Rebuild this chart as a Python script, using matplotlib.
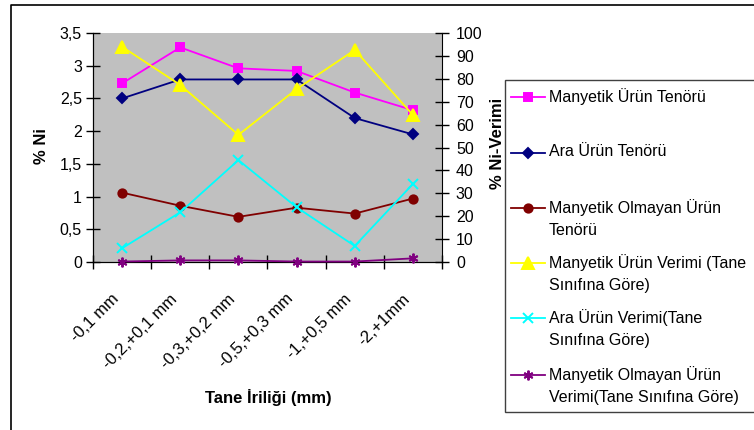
import numpy as np
import matplotlib
matplotlib.use("Agg")
import matplotlib.pyplot as plt
from matplotlib.lines import Line2D
from matplotlib.patches import Rectangle

plt.rcParams["font.family"] = ["Liberation Sans", "DejaVu Sans"]

categories = ["-0,1 mm", "-0,2,+0,1 mm", "-0,3,+0,2 mm", "-0,5,+0,3 mm",
              "-1,+0,5 mm", "-2,+1mm"]

# left axis: % Ni (tenör)
manyetik_tenor = [2.73, 3.28, 2.96, 2.92, 2.59, 2.32]
ara_tenor = [2.50, 2.79, 2.79, 2.79, 2.20, 1.95]
olmayan_tenor = [1.06, 0.86, 0.69, 0.83, 0.74, 0.97]

# right axis: % Ni-Verimi
manyetik_verim = [94.0, 77.3, 55.5, 75.5, 92.6, 64.2]
ara_verim = [6.0, 21.7, 44.5, 23.9, 7.0, 34.1]
olmayan_verim = [0.2, 0.7, 0.7, 0.2, 0.2, 1.6]

left_ticks = [0, 0.5, 1, 1.5, 2, 2.5, 3, 3.5]
left_ticklabels = ["0", "0,5", "1", "1,5", "2", "2,5", "3", "3,5"]
right_ticks = list(range(0, 101, 10))

W, H = 754, 430
fig = plt.figure(figsize=(W / 100, H / 100), dpi=100)
ax = fig.add_axes([93 / W, 1 - 262 / H, (442 - 93) / W, (262 - 33) / H])
ax.set_facecolor("#C0C0C0")
ax2 = ax.twinx()

x = np.arange(len(categories))

series = [
    (ax, manyetik_tenor, "#FF00FF", "s", 6, "Manyetik Ürün Tenörü"),
    (ax, ara_tenor, "#000080", "D", 5.5, "Ara Ürün Tenörü"),
    (ax, olmayan_tenor, "#800000", "o", 6, "Manyetik Olmayan Ürün\nTenörü"),
    (ax2, manyetik_verim, "#FFFF00", "^", 8, "Manyetik Ürün Verimi (Tane\nSınıfına Göre)"),
    (ax2, ara_verim, "#00FFFF", "x", 7, "Ara Ürün Verimi(Tane\nSınıfına Göre)"),
    (ax2, olmayan_verim, "#800080", (6, 2, 0), 7, "Manyetik Olmayan Ürün\nVerimi(Tane Sınıfına Göre)"),
]
for a, vals, col, mk, ms, lab in series:
    a.plot(x, vals, color=col, lw=1.3, marker=mk, ms=ms, mfc=col, mec=col,
           mew=1.4, clip_on=False, zorder=3)

ax.set_xlim(-0.5, len(categories) - 0.5)
ax.set_ylim(0, 3.5)
ax2.set_ylim(0, 100)
ax.set_yticks(left_ticks)
ax.set_yticklabels(left_ticklabels)
ax2.set_yticks(right_ticks)
ax.set_xticks(x)
ax.set_xticklabels(categories, rotation=45, ha="right", fontsize=12)
ax.set_xticks(np.arange(-0.5, len(categories)), minor=True)
ax.tick_params(axis="x", which="major", length=0, pad=21)
ax.tick_params(axis="x", which="minor", direction="inout", length=10, width=1)
ax.tick_params(axis="y", direction="inout", length=10, width=1, labelsize=11.5, pad=3)
ax2.tick_params(axis="y", direction="inout", length=10, width=1, labelsize=11.5, pad=5)

for a in (ax, ax2):
    a.spines["top"].set_visible(False)
    a.spines["left"].set_color("black")
    a.spines["right"].set_color("black")
    a.spines["bottom"].set_color("black")
ax.spines["right"].set_visible(False)

fig.text(41 / W, 1 - 146 / H, "% Ni", rotation=90, ha="center", va="center",
         fontsize=12, fontweight="bold")
fig.text(498 / W, 1 - 143 / H, "% Ni-Verimi", rotation=90, ha="center", va="center",
         fontsize=12, fontweight="bold")
fig.text(268 / W, 1 - 398 / H, "Tane İriliği (mm)", ha="center", va="center",
         fontsize=12, fontweight="bold")

# outer chart border
fig.add_artist(Line2D([11 / W, 11 / W, 1.01], [-0.01, 1 - 5 / H, 1 - 5 / H],
                      transform=fig.transFigure, color="black", lw=1.2))

# legend box drawn by hand (Excel-style layout)
fig.add_artist(Rectangle((505 / W, 1 - 412 / H), (W + 10 - 505) / W, (412 - 80) / H,
                         transform=fig.transFigure, fill=True, fc="white",
                         ec="#404040", lw=1, clip_on=False))
row_y = [97, 153, 208, 263, 318, 375]
for (a, vals, col, mk, ms, lab), yy in zip(series, row_y):
    yf = 1 - yy / H
    fig.add_artist(Line2D([511 / W, 528 / W, 545 / W], [yf, yf, yf],
                          transform=fig.transFigure, color=col, lw=1.3,
                          marker=mk, ms=ms, mfc=col, mec=col, mew=1.4,
                          markevery=[1]))
    fig.text(549 / W, 1 - (yy - 9) / H, lab, ha="left", va="top",
             fontsize=11.5, linespacing=1.6)

fig.savefig("out.png", dpi=100)
